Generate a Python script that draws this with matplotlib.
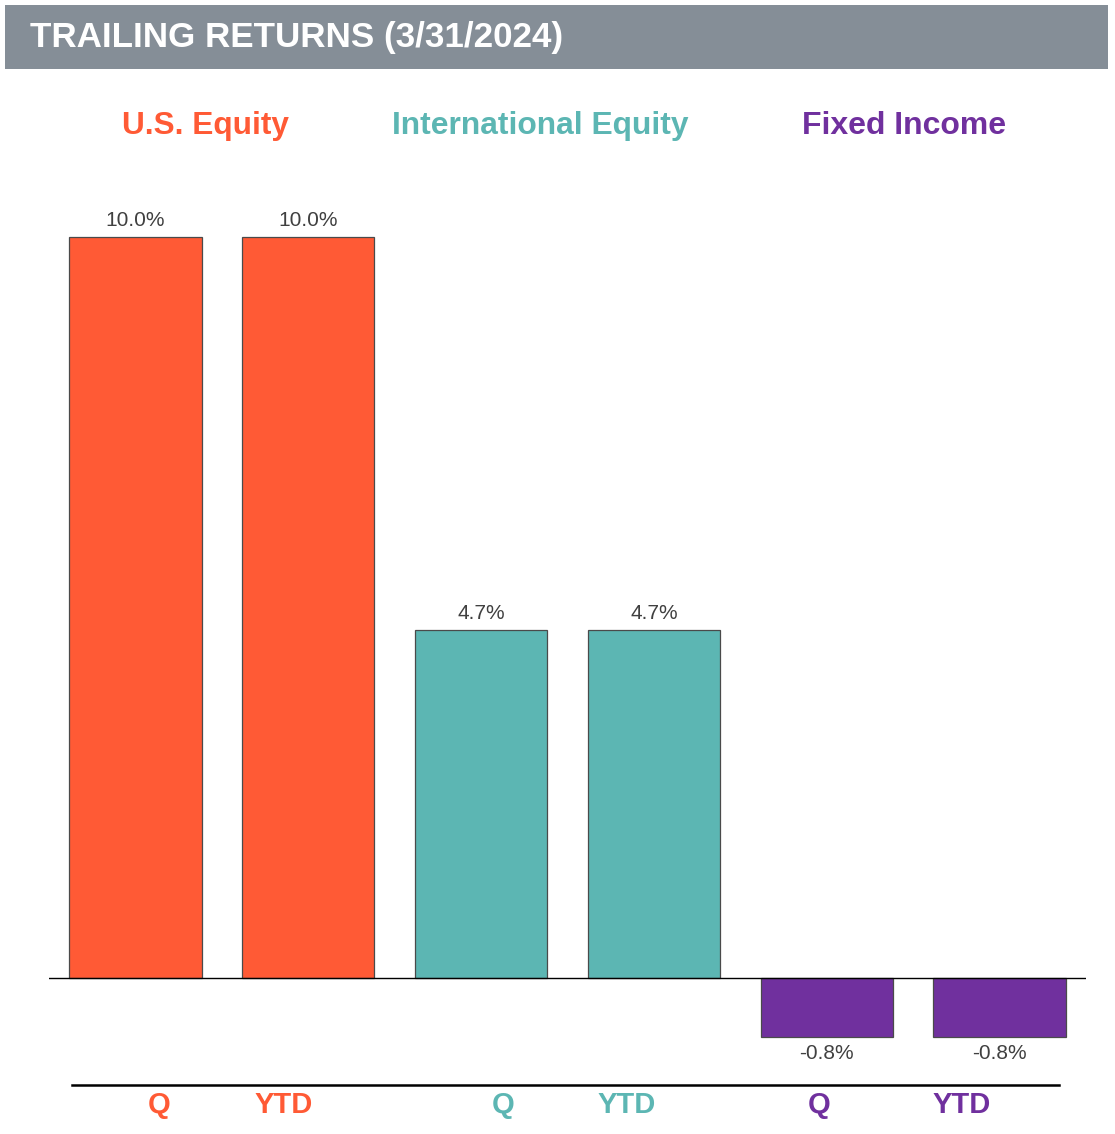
import matplotlib
matplotlib.use("Agg")
import matplotlib.pyplot as plt
from matplotlib.patches import Rectangle
from matplotlib.lines import Line2D

# ---- data ----
title = "TRAILING RETURNS (3/31/2024)"
groups = ["U.S. Equity", "International Equity", "Fixed Income"]
periods = ["Q", "YTD"]
values = [10.0, 10.0, 4.7, 4.7, -0.8, -0.8]
value_labels = ["10.0%", "10.0%", "4.7%", "4.7%", "-0.8%", "-0.8%"]
group_colors = ["#FF5A35", "#5CB6B3", "#70309E"]

W, H = 1115, 1134
DPI = 100
fig = plt.figure(figsize=(W / DPI, H / DPI), dpi=DPI)
fig.patch.set_facecolor("white")
FONT = "Liberation Sans"

def fx(px):
    return px / W

def fy(py):
    return 1 - py / H

def fit_text(x, y, s, target_w, **kw):
    t = fig.text(x, y, s, **kw)
    fig.canvas.draw()
    r = fig.canvas.get_renderer()
    w = t.get_window_extent(renderer=r).width
    t.set_fontsize(t.get_fontsize() * target_w / w)
    return t

# header band
fig.patches.append(Rectangle((fx(5), fy(69)), fx(1108) - fx(5), fy(5) - fy(69),
                             transform=fig.transFigure, facecolor="#858E97",
                             edgecolor="none", zorder=0))
fit_text(fx(30), fy(38), title, 533, fontsize=24, color="white", fontweight="bold",
         family=FONT, ha="left", va="center")

# group titles
title_centers = [206, 540, 904]
title_widths = [167, 296, 205]
for g, c, cx, tw in zip(groups, group_colors, title_centers, title_widths):
    fit_text(fx(cx), fy(126), g, tw, fontsize=20, color=c, fontweight="bold",
             family=FONT, ha="center", va="center")

# axes: left 49px, right 1086px, top 160px, bottom 1070px
ax = fig.add_axes([fx(49), fy(1070), fx(1086) - fx(49), fy(160) - fy(1070)])
ppu = (978 - 237) / 10.0
ax.set_ylim(-(1070 - 978) / ppu, (978 - 160) / ppu)
ax.set_xlim(-0.5, 5.5)
ax.axis("off")

xs = list(range(len(values)))
colors = [group_colors[i // 2] for i in xs]
ax.bar(xs, values, width=0.765, color=colors, edgecolor="#4a4a4a", linewidth=0.9, zorder=2)
ax.axhline(0, color="black", linewidth=1.0, zorder=3)

for x, v, lab in zip(xs, values, value_labels):
    if v >= 0:
        ax.annotate(lab, (x, v), xytext=(0, 5), textcoords="offset points",
                    ha="center", va="bottom", fontsize=15, color="#404040", family=FONT)
    else:
        ax.annotate(lab, (x, v), xytext=(0, -5), textcoords="offset points",
                    ha="center", va="top", fontsize=15, color="#404040", family=FONT)

# bottom rule
fig.lines.append(Line2D([fx(72), fx(1059)], [fy(1085), fy(1085)],
                        transform=fig.transFigure, color="black", linewidth=1.8))

# period labels
period_x = [159, 284, 503, 627, 819, 962]
for i, px in enumerate(period_x):
    fig.text(fx(px), fy(1105), periods[i % 2], color=group_colors[i // 2],
             fontsize=21, fontweight="bold", family=FONT, ha="center", va="center")

fig.savefig("out.png", dpi=DPI, facecolor="white")
